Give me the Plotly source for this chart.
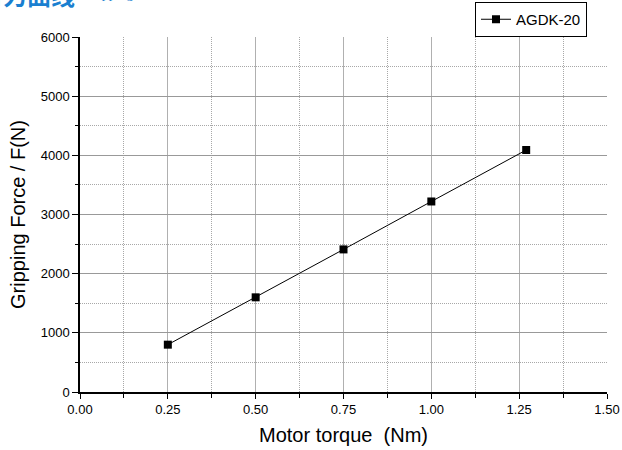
import plotly.graph_objects as go

torque = [0.25, 0.50, 0.75, 1.00, 1.27]
force = [800, 1600, 2410, 3220, 4090]
series_name = "AGDK-20"
x_ticks = [0.00, 0.25, 0.50, 0.75, 1.00, 1.25, 1.50]
x_tick_labels = ["0.00", "0.25", "0.50", "0.75", "1.00", "1.25", "1.50"]
x_minor = [0.125, 0.375, 0.625, 0.875, 1.125, 1.375]
x_grid = [0.25, 0.50, 0.75, 1.00, 1.25]
y_ticks = [0, 1000, 2000, 3000, 4000, 5000, 6000]
y_minor = [500, 1500, 2500, 3500, 4500, 5500]
y_grid = [1000, 2000, 3000, 4000, 5000]

X_RANGE = [0, 1.5]
Y_RANGE = [0, 6000]

fig = go.Figure()
# empty helper trace so the grid-only overlay axes exist
fig.add_trace(go.Scatter(x=[], y=[], xaxis="x2", yaxis="y2",
                         showlegend=False, hoverinfo="skip"))
fig.add_trace(go.Scatter(
    x=torque, y=force, name=series_name, mode="lines+markers",
    line=dict(color="black", width=1),
    marker=dict(symbol="square", size=8, color="black"),
))

W, H = 622, 450
L, R, T, B = 80, 15, 37, 58
DOT = "1px,1px"

fig.update_layout(
    width=W, height=H,
    margin=dict(l=L, r=R, t=T, b=B, autoexpand=False),
    paper_bgcolor="white", plot_bgcolor="white",
    font=dict(family="Liberation Sans, Arial, sans-serif", color="black", size=13),
    showlegend=True,
    legend=dict(
        xref="container", yref="container",
        x=587 / W, y=1 - 2 / H, xanchor="right", yanchor="top",
        bordercolor="black", borderwidth=1, bgcolor="white",
        font=dict(size=15), itemwidth=30,
        tracegroupgap=0,
    ),
    xaxis2=dict(overlaying="x", range=X_RANGE, tickvals=x_grid,
                showticklabels=False, ticks="", showline=False,
                showgrid=True, gridcolor="#b0b0b0", gridwidth=1,
                zeroline=False, automargin=False, fixedrange=True),
    yaxis2=dict(overlaying="y", range=Y_RANGE, tickvals=y_grid,
                showticklabels=False, ticks="", showline=False,
                showgrid=True, gridcolor="#999999", gridwidth=1,
                zeroline=False, automargin=False, fixedrange=True),
)

fig.layout.xaxis.update(
    range=X_RANGE, tickvals=x_ticks, ticktext=x_tick_labels,
    automargin=False,
    showline=True, linecolor="black", linewidth=1.5,
    ticks="outside", ticklen=5, tickwidth=1, tickcolor="black",
    showgrid=False, zeroline=False,
    minor=dict(tickvals=x_minor, ticks="outside", ticklen=4, tickcolor="black",
               showgrid=True, gridcolor="#a8a8a8", griddash=DOT, gridwidth=1),
    title=dict(text="Motor torque  (Nm)", font=dict(size=20), standoff=12),
    tickfont=dict(size=13),
)
fig.layout.yaxis.update(
    range=Y_RANGE, tickvals=y_ticks,
    automargin=False,
    showline=True, linecolor="black", linewidth=1.5,
    ticks="outside", ticklen=6, tickwidth=1, tickcolor="black",
    showgrid=False, zeroline=False,
    minor=dict(tickvals=y_minor, ticks="outside", ticklen=3, tickcolor="black",
               showgrid=True, gridcolor="#a8a8a8", griddash=DOT, gridwidth=1),
    title=dict(text="Gripping Force / F(N)", font=dict(size=20), standoff=10),
    tickfont=dict(size=13),
)

# Partially cropped caption at the very top of the image
fig.add_annotation(
    text="<b>夹持力曲线</b>", xref="paper", yref="paper", x=0, y=1,
    xanchor="left", yanchor="bottom", xshift=-127, yshift=T - 14,
    showarrow=False, font=dict(size=24, color="#1a7fd0",
                               family="Noto Sans CJK SC"),
)
fig.add_annotation(
    text="Gripping", xref="paper", yref="paper", x=0, y=1,
    xanchor="left", yanchor="bottom", xshift=1, yshift=T - 3,
    showarrow=False, font=dict(size=14, color="#1a7fd0",
                               family="Liberation Serif, serif"),
)

fig.write_html(
    "out.html",
    config={"displayModeBar": False},
    post_script="document.body.style.margin='0';document.body.style.overflow='hidden';",
)
